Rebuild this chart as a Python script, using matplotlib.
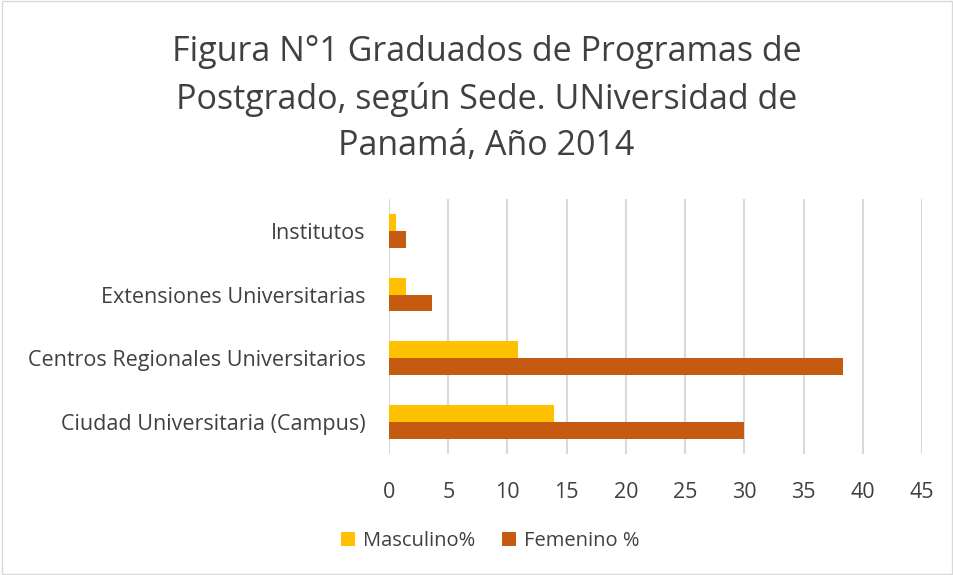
import numpy as np
import matplotlib.pyplot as plt
from matplotlib.patches import Rectangle

# datos
sedes = ["Ciudad Universitaria (Campus)", "Centros Regionales Universitarios",
         "Extensiones Universitarias", "Institutos"]
masculino = [13.9, 10.9, 1.4, 0.55]
femenino = [30.0, 38.35, 3.6, 1.4]
ticks_x = [0, 5, 10, 15, 20, 25, 30, 35, 40, 45]

plt.rcParams['font.family'] = ['Open Sans', 'DejaVu Sans']

fig = plt.figure(figsize=(9.54, 5.75), dpi=100)
ax = fig.add_axes([0.4078, 0.2104, 0.5587, 0.4436])

y = np.arange(len(sedes))
h = 0.265
ax.barh(y + h / 2, masculino, height=h, color="#FFC000", label="Masculino%", zorder=3)
ax.barh(y - h / 2, femenino, height=h, color="#C55A11", label="Femenino %", zorder=3)

ax.set_xlim(0, 45)
ax.set_ylim(-0.5, len(sedes) - 0.5)
ax.set_xticks(ticks_x)
ax.set_yticks(y)
ax.set_yticklabels(sedes)
ax.tick_params(axis="both", length=0, labelsize=15.5, colors="#404040")
ax.tick_params(axis="x", pad=20)
ax.tick_params(axis="y", pad=17)
ax.grid(axis="x", color="#D9D9D9", linewidth=1.5, zorder=0)
for s in ax.spines.values():
    s.set_visible(False)

fig.text(0.51, 0.828, "Figura N°1 Graduados de Programas de\nPostgrado, según Sede. UNiversidad de\nPanamá, Año 2014",
         ha="center", va="center", fontsize=24.5, color="#404040", linespacing=1.48)

fig.legend(loc="center", bbox_to_anchor=(0.514, 0.059), ncol=2, frameon=False,
           fontsize=14.5, handlelength=0.7, handleheight=0.7, columnspacing=1.3,
           handletextpad=0.4, labelcolor="#404040")

fig.patches.append(Rectangle((0.002, 0.002), 0.996, 0.996, transform=fig.transFigure,
                             fill=False, edgecolor="#D9D9D9", linewidth=1))

fig.savefig("out.png", dpi=100)
